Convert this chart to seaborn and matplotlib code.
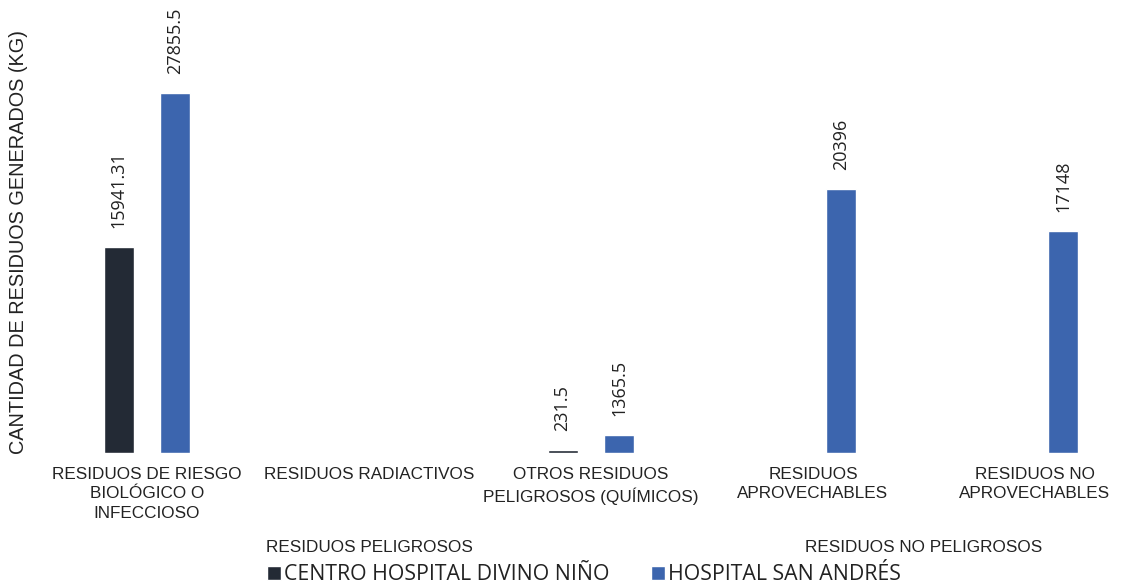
import pandas as pd
import numpy as np
import matplotlib
matplotlib.use('Agg')
import matplotlib.pyplot as plt
import matplotlib.transforms as mtransforms
import seaborn as sns

categorias = ['RESIDUOS DE RIESGO\nBIOLÓGICO O\nINFECCIOSO',
              'RESIDUOS RADIACTIVOS',
              'OTROS RESIDUOS\nPELIGROSOS (QUÍMICOS)',
              'RESIDUOS\nAPROVECHABLES',
              'RESIDUOS NO\nAPROVECHABLES']
hospitales = ['CENTRO HOSPITAL DIVINO NIÑO', 'HOSPITAL SAN ANDRÉS']
divino_nino = [15941.31, np.nan, 231.5, np.nan, np.nan]
san_andres = [27855.5, np.nan, 1365.5, 20396, 17148]
grupos = ['RESIDUOS PELIGROSOS', 'RESIDUOS NO PELIGROSOS']
grupo_centro = [1, 3.5]
colores = ['#232A35', '#3C65AE']

df = pd.DataFrame({
    'categoria': categorias * 2,
    'hospital': [hospitales[0]] * 5 + [hospitales[1]] * 5,
    'kg': divino_nino + san_andres,
})

sns.set_style('white')
fig = plt.figure(figsize=(11.21, 5.88), dpi=100)
ax = fig.add_axes([36 / 1121, 1 - 453 / 588, 1 - 36 / 1121, (453 - 30) / 588])

sns.barplot(data=df, x='categoria', y='kg', hue='hospital', order=categorias,
            hue_order=hospitales, palette=colores, width=0.513, gap=0.474,
            saturation=1, errorbar=None, ax=ax)

for cont in ax.containers:
    ax.bar_label(cont, fmt=lambda v: format(v, '.10g'), rotation=90, padding=14,
                 fontsize=13, family='Open Sans', color='#222222')

ax.set_xlim(-0.5, (1121 - 147) / 222)
ax.set_ylim(0, 32740)
ax.set_yticks([])
ax.set_xlabel('')
ax.set_ylabel('CANTIDAD DE RESIDUOS GENERADOS (KG)', fontsize=14.3,
              family='Liberation Sans', color='#222222')
ax.yaxis.set_label_coords(-8 / 1085, 0.5)
ax.tick_params(axis='x', length=0, pad=10, labelsize=12.3, labelcolor='#222222')
for lbl in ax.get_xticklabels():
    lbl.set_family('Liberation Sans')
    lbl.set_linespacing(1.38)
sns.despine(ax=ax, left=True, bottom=True)

# etiquetas de grupo
trans = mtransforms.blended_transform_factory(ax.transData, fig.transFigure)
for g, xc in zip(grupos, grupo_centro):
    ax.text(xc, 1 - 548 / 588, g, transform=trans, ha='center', va='center',
            fontsize=12.3, family='Liberation Sans', color='#222222')

handles, labels = ax.get_legend_handles_labels()
ax.legend_.remove()
fig.legend(handles, labels, loc='center', bbox_to_anchor=(584 / 1121, 1 - 575 / 588),
           ncol=2, frameon=False, prop={'family': 'Open Sans', 'size': 15.3},
           handlelength=0.65, handleheight=0.65, handletextpad=0.15,
           columnspacing=1.97, borderpad=0, labelcolor='#222222')

plt.savefig('out.png', dpi=100)
